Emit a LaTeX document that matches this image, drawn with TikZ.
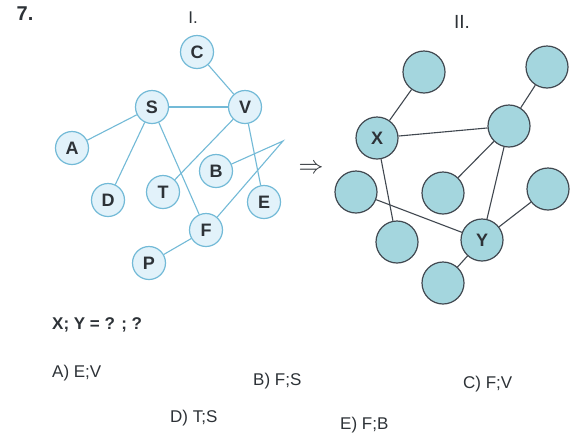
\documentclass[tikz,border=0pt]{standalone}
\usepackage{fontspec}
\setmainfont{Liberation Sans}
\begin{document}
\begin{tikzpicture}[x=1pt,y=-1pt,
  lblue/.style={draw=edgeA, line width=1.2pt, fill=fillA, circle, minimum size=33pt, inner sep=0pt, font=\fontsize{18}{18}\selectfont\bfseries, text=textA},
  gnode/.style={draw=edgeB, line width=1.2pt, fill=fillB, circle, minimum size=42pt, inner sep=0pt, font=\fontsize{18}{18}\selectfont\bfseries, text=textB},
  eA/.style={draw=edgeA, line width=1.1pt},
  eB/.style={draw=edgeB, line width=1.1pt},
  txt/.style={font=\fontsize{17}{17}\selectfont, anchor=base west, inner sep=0pt}
]
\definecolor{edgeA}{RGB}{115,186,215}
\definecolor{fillA}{RGB}{226,242,250}
\definecolor{textA}{RGB}{45,50,55}
\definecolor{edgeB}{RGB}{65,72,80}
\definecolor{fillB}{RGB}{164,214,222}
\definecolor{textB}{RGB}{45,50,55}
\useasboundingbox (0,0) rectangle (586,437);
\fill[white] (0,0) rectangle (586,437);

\node[font=\fontsize{20}{20}\selectfont\bfseries, text=textA] (num) at (25,14) {7.};
\node[font=\fontsize{17}{17}\selectfont, text=textA] (lI) at (193,18) {I.};
\node[font=\fontsize{19}{19}\selectfont, text=textA] (lII) at (462,22) {II.};

% Graph I
\coordinate (K) at (283,141);
\node[lblue] (C) at (197,52) {C};
\node[lblue] (S) at (152,107) {S};
\node[lblue] (V) at (245,107) {V};
\node[lblue] (A) at (72,148) {A};
\node[lblue] (B) at (216,171) {B};
\node[lblue] (T) at (163,192) {T};
\node[lblue] (D) at (108,200) {D};
\node[lblue] (E) at (264,202) {E};
\node[lblue] (F) at (206,230) {F};
\node[lblue] (P) at (149,263) {P};
\draw[eA] (C) -- (V);
\draw[eA] (S) -- (V);
\draw[eA] (S) -- (A);
\draw[eA] (S) -- (D);
\draw[eA] (S) -- (F);
\draw[eA] (V) -- (T);
\draw[eA] (V) -- (E);
\draw[eA] (B) -- (K) -- (F);
\draw[eA] (F) -- (P);

\node[font=\fontsize{26}{26}\selectfont, text=textA, inner sep=0pt] (arr) at (311,169) {$\Rightarrow$};

% Graph II
\node[gnode] (n1) at (424,72) {};
\node[gnode] (n2) at (547,67) {};
\node[gnode] (X) at (377,138) {X};
\node[gnode] (R) at (509,126) {};
\node[gnode] (L) at (356,192) {};
\node[gnode] (M) at (443,193) {};
\node[gnode] (RR) at (548,189) {};
\node[gnode] (B1) at (397,242) {};
\node[gnode] (Y) at (482,240) {Y};
\node[gnode] (Bo) at (443,283) {};
\draw[eB] (n1) -- (X);
\draw[eB] (X) -- (R);
\draw[eB] (R) -- (n2);
\draw[eB] (R) -- (M);
\draw[eB] (R) -- (Y);
\draw[eB] (X) -- (B1);
\draw[eB] (L) -- (Y);
\draw[eB] (Y) -- (RR);
\draw[eB] (Y) -- (Bo);

% Text
\node[txt, font=\fontsize{17}{17}\selectfont\bfseries, text=textA] (q) at (52,329) {X; Y = ? ; ?};
\node[txt, text=textA] (oa) at (52,377) {A) E;V};
\node[txt, text=textA] (ob) at (253,385) {B) F;S};
\node[txt, text=textA] (oc) at (463,388) {C) F;V};
\node[txt, text=textA] (od) at (170,422) {D) T;S};
\node[txt, text=textA] (oe) at (340,429) {E) F;B};
\end{tikzpicture}
\end{document}
